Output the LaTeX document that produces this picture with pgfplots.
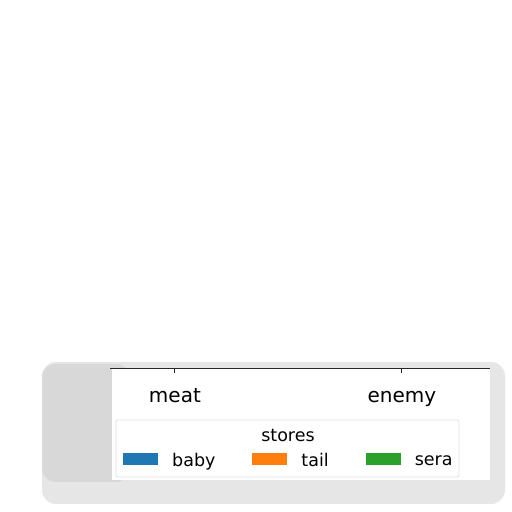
\documentclass[border=0pt]{standalone}
\usepackage{pgfplots}
\pgfplotsset{compat=1.18}
\usepackage{fontspec}
\setmainfont{DejaVu Sans}

\definecolor{tabblue}{HTML}{1F77B4}
\definecolor{taborange}{HTML}{FF7F0E}
\definecolor{tabgreen}{HTML}{2CA02C}
\definecolor{spine}{HTML}{262626}
\definecolor{smear}{HTML}{E6E6E6}
\definecolor{smeardark}{HTML}{D8D8D8}

\begin{document}
\begin{tikzpicture}
\path[use as bounding box] (0pt,0pt) rectangle (512pt,512pt);
% grey smudge round the lower strip
\fill[smear, rounded corners=14pt] (42pt,8pt) rectangle (505pt,150pt);
\fill[smeardark, rounded corners=14pt] (42pt,30pt) rectangle (130pt,148pt);
\fill[white] (112pt,32pt) rectangle (490pt,144pt);
\begin{axis}[
	at={(110pt,144pt)}, anchor=south west,
	scale only axis, width=380pt, height=368pt,
	ybar=0pt, bar width=40pt,
	xmin=-0.286, xmax=1.388, ymin=0, ymax=1,
	axis on top,
	axis x line*=bottom, axis y line=none,
	axis line style={spine, line width=1pt, -},
	xtick={0,1}, xticklabels={meat,enemy},
	tick align=outside, major tick length=5pt,
	xtick style={spine, line width=1pt},
	xticklabel style={font=\fontsize{20}{24}\selectfont, text height=14.5pt, text depth=4.5pt, yshift=-11pt},
	legend image code/.code={\fill[#1] (0pt,-4.5pt) rectangle (35pt,7.5pt);},
	legend style={draw=none, fill=none, inner sep=0pt,
		at={(axis description cs:0.0342,-0.2527)}, anchor=west,
		legend columns=3, font=\fontsize{17.5}{21}\selectfont,
		nodes={inner xsep=0pt},
		/tikz/every odd column/.append style={column sep=14pt},
		/tikz/every even column/.append style={column sep=37pt}},
]
\addplot [fill=tabblue, draw=none] coordinates {(0,0) (1,0)};
\addplot [fill=taborange, draw=none] coordinates {(0,0) (1,0)};
\addplot [fill=tabgreen, draw=none] coordinates {(0,0) (1,0)};
\legend{baby,tail,sera}
\end{axis}
\draw[black!12, line width=0.8pt, rounded corners=2pt] (116pt,35pt) rectangle (459pt,92pt);
\node[font=\fontsize{17.5}{21}\selectfont] at (288pt,77pt) {stores};
\end{tikzpicture}
\end{document}
